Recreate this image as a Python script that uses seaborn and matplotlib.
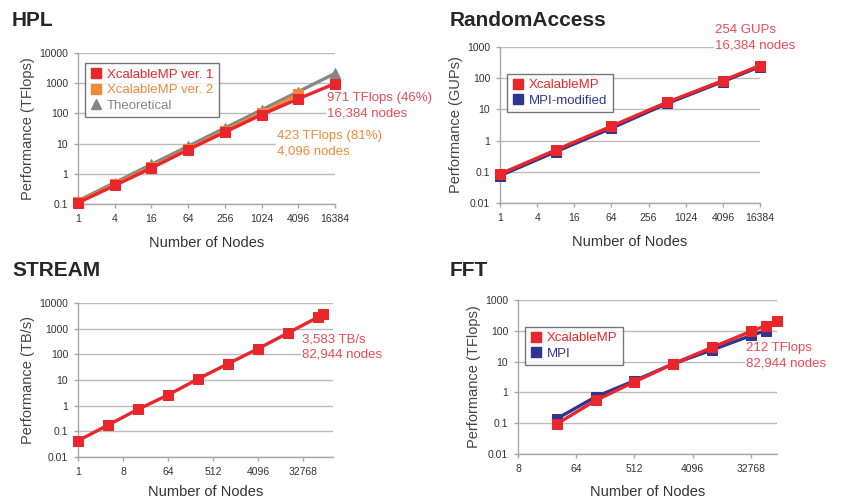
import numpy as np
import pandas as pd
import seaborn as sns
import matplotlib
matplotlib.use('Agg')
import matplotlib.pyplot as plt
from matplotlib.lines import Line2D
from matplotlib.ticker import FixedLocator, NullLocator, FuncFormatter

# --- data ---
hpl_nodes = [1, 4, 16, 64, 256, 1024, 4096, 16384]
hpl_v1 = [0.11, 0.41, 1.55, 6.3, 24, 91, 305, 971]
hpl_v2_nodes = [1, 4, 16, 64, 256, 1024, 4096]
hpl_v2 = [0.115, 0.45, 1.65, 6.7, 27, 105, 423]
hpl_theory = [0.128, 0.512, 2.05, 8.19, 32.8, 131, 524, 2097]

ra_nodes = [1, 8, 64, 512, 4096, 16384]
ra_xmp = [0.085, 0.5, 2.9, 17, 84, 254]
ra_mpi = [0.075, 0.44, 2.5, 15.5, 78, 235]

stream_nodes = [1, 4, 16, 64, 256, 1024, 4096, 16384, 65536, 82944]
stream_xmp = [0.043, 0.175, 0.72, 2.6, 11, 43, 165, 680, 2800, 3583]

fft_nodes = [32, 128, 512, 2048, 8192, 32768, 55296, 82944]
fft_xmp = [0.095, 0.55, 2.2, 8.5, 29, 96, 146, 212]
fft_mpi_nodes = [32, 128, 512, 2048, 8192, 32768, 55296]
fft_mpi = [0.14, 0.72, 2.4, 8.5, 24, 70, 102]

hpl_xticks = [1, 4, 16, 64, 256, 1024, 4096, 16384]
stream_xticks = [1, 8, 64, 512, 4096, 32768]
fft_xticks = [8, 64, 512, 4096, 32768]

RED = '#e8262b'
ORANGE = '#f0893a'
GREY = '#868686'
BLUE = '#2e3592'
TXT_RED = '#ea4a55'

sns.set_style('white')
plt.rcParams['font.family'] = ['Liberation Sans', 'DejaVu Sans']

fig = plt.figure(figsize=(8.49, 4.99), dpi=100)
W, H = 849, 499


def add_ax(l, t, r, b):
    return fig.add_axes([l / W, 1 - b / H, (r - l) / W, (b - t) / H])


def style(ax, xticks, xlim, yticks, ylabel, xpad=9):
    ax.set_xscale('log', base=2)
    ax.set_yscale('log')
    ax.set_xlim(xlim)
    ax.set_ylim(yticks[0], yticks[-1])
    ax.xaxis.set_major_locator(FixedLocator(xticks))
    ax.yaxis.set_major_locator(FixedLocator(yticks))
    fmt = FuncFormatter(lambda v, p: f'{v:g}')
    ax.xaxis.set_major_formatter(fmt)
    ax.yaxis.set_major_formatter(fmt)
    ax.xaxis.set_minor_locator(NullLocator())
    ax.yaxis.set_minor_locator(NullLocator())
    ax.yaxis.grid(True, color='#bcbcbc', lw=1)
    ax.xaxis.grid(False)
    ax.set_axisbelow(True)
    for s in ['top', 'right']:
        ax.spines[s].set_visible(False)
    for s in ['left', 'bottom']:
        ax.spines[s].set_color('#a8a8a8')
        ax.spines[s].set_linewidth(1)
    ax.tick_params(axis='both', length=3, width=1, color='#a8a8a8',
                   labelsize=7.5, labelcolor='#333333', pad=4, left=True, bottom=True)
    ax.set_xlabel('Number of Nodes', fontsize=10.5, color='#333333', labelpad=xpad)
    ax.set_ylabel(ylabel, fontsize=10.5, color='#444444', labelpad=3)


def series(ax, x, y, color, marker='s', ms=6.5, z=3):
    sns.lineplot(x=x, y=y, ax=ax, color=color, lw=2.4, marker=marker, ms=ms,
                 markeredgecolor=color, clip_on=False, zorder=z)


def legend(ax, labels, colors, markers, bbox):
    handles = [Line2D([], [], ls='none', marker=m, color=c, ms=6.5) for m, c in zip(markers, colors)]
    leg = ax.legend(handles, labels, loc='upper left', bbox_to_anchor=bbox,
                    fontsize=9.5, frameon=True, fancybox=False, handletextpad=0.3,
                    borderpad=0.4, labelspacing=0.25, handlelength=1.0,
                    labelcolor=colors)
    leg.get_frame().set_edgecolor('#555555')
    leg.get_frame().set_linewidth(1.0)


def note(x, y, s, color):
    fig.text(x / W, 1 - y / H, s, color=color, fontsize=9.5, va='top', ha='left',
             linespacing=1.35, zorder=10,
             bbox=dict(facecolor='white', edgecolor='none', pad=0.5))


# HPL
ax1 = add_ax(78, 53, 335, 204)
series(ax1, hpl_nodes, hpl_theory, GREY, marker='^', ms=6.5, z=2)
series(ax1, hpl_v2_nodes, hpl_v2, ORANGE, z=3)
series(ax1, hpl_nodes, hpl_v1, RED, z=4)
style(ax1, hpl_xticks, (1, 16384), [0.1, 1, 10, 100, 1000, 10000], 'Performance (TFlops)')
legend(ax1, ['XcalableMP ver. 1', 'XcalableMP ver. 2', 'Theoretical'],
       [RED, ORANGE, GREY], ['s', 's', '^'], (0.0, 0.975))
note(327, 92, '971 TFlops (46%)\n16,384 nodes', TXT_RED)
note(277, 130, '423 TFlops (81%)\n4,096 nodes', ORANGE)

# RandomAccess
ax2 = add_ax(500, 47, 760, 203)
series(ax2, ra_nodes, ra_mpi, BLUE, z=3)
series(ax2, ra_nodes, ra_xmp, RED, z=4)
style(ax2, hpl_xticks, (1, 16384), [0.01, 0.1, 1, 10, 100, 1000], 'Performance (GUPs)')
legend(ax2, ['XcalableMP', 'MPI-modified'], [RED, BLUE], ['s', 's'], (0.0, 0.87))
note(715, 24, '254 GUPs\n16,384 nodes', TXT_RED)

# STREAM
ax3 = add_ax(78, 303, 333, 457)
series(ax3, stream_nodes, stream_xmp, RED, z=4)
style(ax3, stream_xticks, (1, 131072), [0.01, 0.1, 1, 10, 100, 1000, 10000],
      'Performance (TB/s)', xpad=6)
note(302, 333, '3,583 TB/s\n82,944 nodes', TXT_RED)

# FFT
ax4 = add_ax(518, 300, 777, 454)
series(ax4, fft_mpi_nodes, fft_mpi, BLUE, z=3)
series(ax4, fft_nodes, fft_xmp, RED, z=4)
style(ax4, fft_xticks, (8, 82944), [0.01, 0.1, 1, 10, 100, 1000],
      'Performance (TFlops)', xpad=8)
legend(ax4, ['XcalableMP', 'MPI'], [RED, BLUE], ['s', 's'], (0.0, 0.87))
note(746, 342, '212 TFlops\n82,944 nodes', TXT_RED)

# panel titles
for x, y, t in [(12, 20, 'HPL'), (450, 20, 'RandomAccess'), (12, 270, 'STREAM'), (450, 270, 'FFT')]:
    fig.text(x / W, 1 - y / H, t, fontsize=15, fontweight='bold', va='center', ha='left')

plt.savefig('out.png', dpi=100)
